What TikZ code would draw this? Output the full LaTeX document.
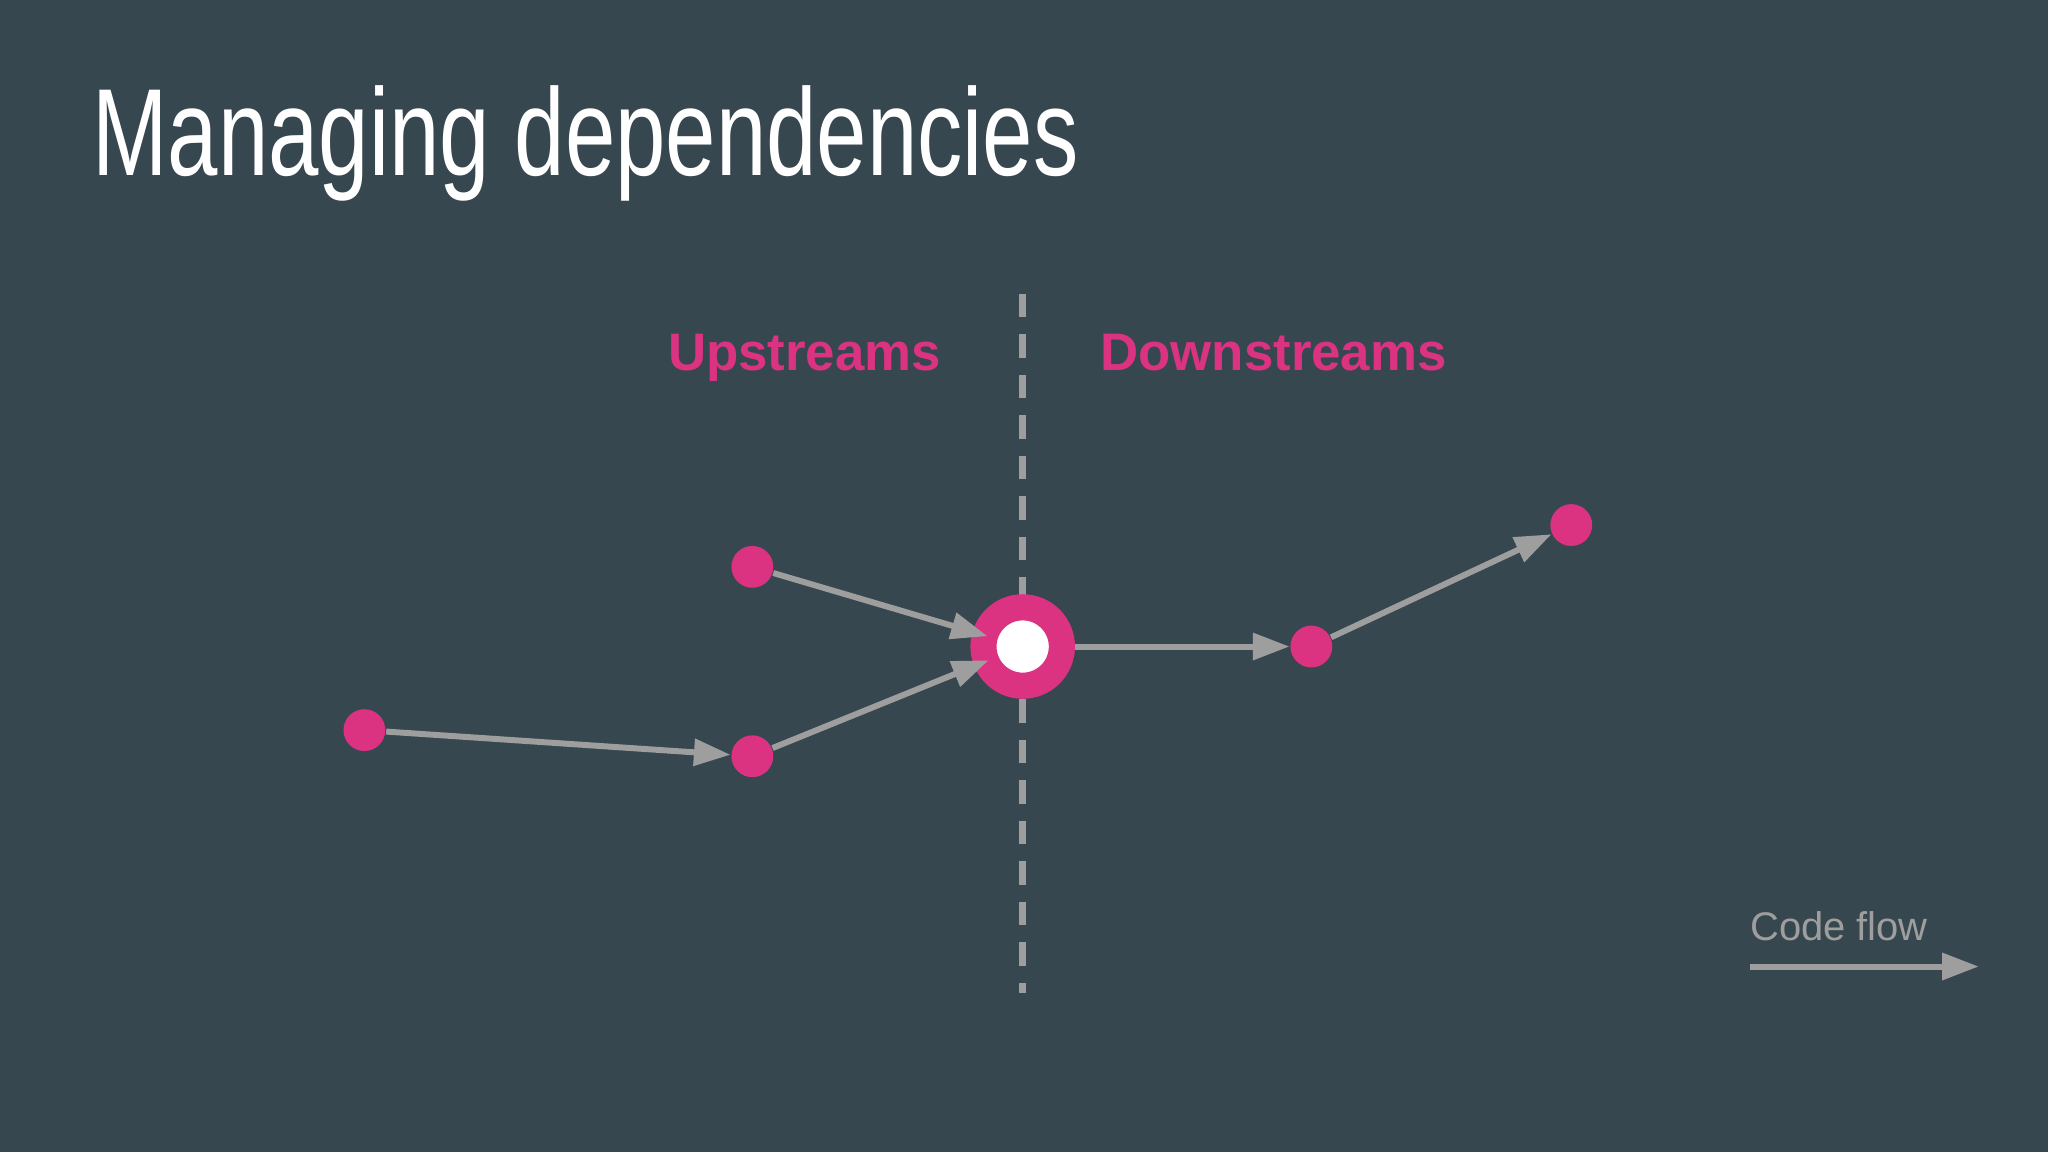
\documentclass[tikz,border=0pt]{standalone}
\usepackage{fontspec}
\setmainfont{Liberation Sans}
\usetikzlibrary{arrows.meta}
\definecolor{bg}{RGB}{55,71,79}
\definecolor{pink}{RGB}{219,50,130}
\definecolor{gr}{RGB}{158,158,158}
\begin{document}
\begin{tikzpicture}[x=0.01cm,y=-0.01cm,
  dot/.style={circle,fill=pink,minimum size=0.32cm,inner sep=0pt},
  conn/.style={draw=gr,line width=1.3pt,-{Triangle[length=0.28cm,width=0.2cm]}},
  lbl/.style={text=pink,anchor=base,font=\bfseries\fontsize{11.5}{14}\selectfont}]
\fill[bg] (0,0) rectangle (1568,882);
\useasboundingbox (0,0) rectangle (1568,882);
\node[anchor=base west,text=white,inner sep=0pt] (title) at (70,134) {\scalebox{0.73}[1]{\fontsize{27}{32}\selectfont Managing dependencies}};
\draw[gr,line width=1.4pt,dash pattern=on 0.18cm off 0.13cm] (783,225) -- (783,760);
\node[lbl] (up) at (616,284) {Upstreams};
\node[lbl] (down) at (975,284) {Downstreams};
\node[circle,draw=pink,line width=0.2cm,fill=white,minimum size=0.6cm,inner sep=0pt] (m) at (783,495) {};
\node[dot] (a) at (576,434) {};
\node[dot] (b) at (576,579) {};
\node[dot] (c) at (279,559) {};
\node[dot] (d) at (1004,495) {};
\node[dot] (e) at (1203,402) {};
\draw[conn,shorten >=-0.12cm] (a) -- (m);
\draw[conn,shorten >=-0.12cm] (b) -- (m);
\draw[conn] (c) -- (b);
\draw[conn] (m) -- (d);
\draw[conn] (d) -- (e);
\node[text=gr,anchor=base,font=\fontsize{8.7}{10}\selectfont] (cf) at (1408,720) {Code flow};
\coordinate (f1) at (1340,740);
\coordinate (f2) at (1515,740);
\draw[conn] (f1) -- (f2);
\end{tikzpicture}
\end{document}
